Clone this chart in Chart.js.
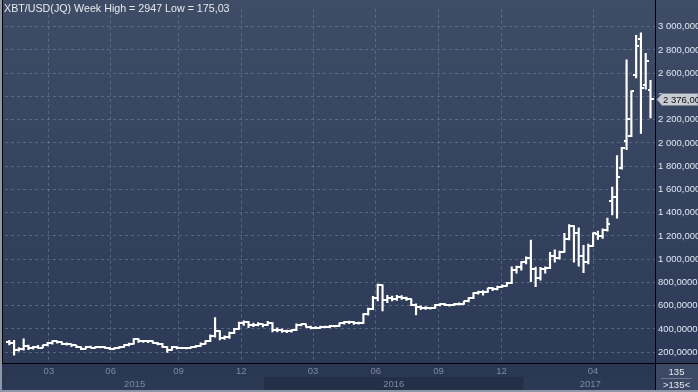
<!DOCTYPE html>
<html>
<head>
<meta charset="utf-8">
<script src="https://cdn.jsdelivr.net/npm/chart.js@4.4.1/dist/chart.umd.min.js"></script>
<style>
  html, body { margin: 0; padding: 0; background: #2c3a56; }
</style>
</head>
<body>
<canvas id="myChart" width="698" height="392"></canvas>
<script>
// weekly XBT/USD bars, index 0 = first week of 2015
const opens = [
  285, 278, 217, 231, 253, 236, 245, 240, 259, 278, 295, 287, 273, 267, 259, 245, 231, 245, 240, 245,
  241, 239, 231, 236, 245, 259, 273, 315, 295, 292, 295, 281, 273, 245, 222, 245, 236, 238, 236, 245,
  253, 273, 295, 343, 378, 323, 328, 365, 399, 455, 462, 436, 438, 441, 436, 452, 395, 392, 385, 378,
  388, 438, 441, 419, 408, 410, 419, 416, 427, 425, 447, 460, 458, 452, 455, 526, 570, 665, 775, 645,
  668, 655, 675, 670, 655, 610, 590, 580, 578, 580, 606, 612, 610, 604, 615, 618, 638, 666, 708, 718,
  722, 750, 742, 764, 772, 792, 904, 932, 974, 1008, 918, 834, 918, 924, 1031, 1008, 1064, 1171, 1283, 1227,
  1031, 974, 1115, 1213, 1199, 1249, 1502, 1536, 1783, 2013, 2061, 2588, 2891, 2496, 2454
];
const highs = [
  303, 302, 240, 315, 262, 250, 258, 262, 285, 300, 298, 290, 280, 270, 262, 248, 250, 252, 250, 250,
  248, 242, 242, 250, 265, 278, 318, 318, 300, 298, 298, 285, 276, 248, 250, 248, 242, 242, 250, 258,
  280, 300, 350, 497, 385, 340, 372, 405, 460, 470, 465, 450, 455, 445, 465, 455, 410, 400, 390, 395,
  445, 445, 445, 425, 420, 425, 425, 430, 432, 452, 466, 468, 465, 458, 532, 580, 680, 785, 780, 690,
  682, 690, 688, 675, 660, 615, 598, 592, 585, 612, 618, 620, 612, 620, 625, 640, 670, 712, 725, 730,
  752, 758, 768, 780, 800, 935, 940, 980, 1020, 1165, 932, 930, 935, 1059, 1081, 1070, 1222, 1297, 1289, 1270,
  1120, 1130, 1227, 1241, 1261, 1353, 1620, 1892, 1962, 2715, 2448, 2925, 2947, 2771, 2538
];
const lows = [
  262, 175.03, 208, 217, 222, 225, 232, 236, 255, 270, 278, 265, 260, 248, 238, 222, 228, 236, 234, 236,
  232, 222, 226, 233, 242, 255, 270, 285, 285, 282, 275, 262, 240, 198, 218, 228, 230, 229, 234, 240,
  250, 268, 290, 330, 305, 310, 318, 360, 395, 430, 410, 420, 425, 418, 430, 375, 375, 370, 368, 372,
  385, 425, 415, 400, 402, 405, 410, 412, 418, 422, 440, 445, 438, 440, 448, 518, 565, 640, 555, 625,
  640, 645, 655, 645, 600, 520, 565, 568, 570, 576, 598, 600, 596, 600, 605, 612, 632, 660, 700, 690,
  715, 730, 735, 758, 768, 790, 880, 905, 960, 806, 764, 820, 880, 918, 974, 1000, 1059, 1165, 974, 940,
  885, 960, 1109, 1171, 1179, 1241, 1381, 1353, 1774, 1943, 2055, 2560, 2083, 2462, 2215
];
const closes = [
  278, 217, 231, 253, 236, 245, 240, 259, 278, 295, 287, 273, 267, 259, 245, 231, 245, 240, 245, 241,
  239, 231, 236, 245, 259, 273, 315, 295, 292, 295, 281, 273, 245, 222, 245, 236, 238, 236, 245, 253,
  273, 295, 343, 378, 323, 328, 365, 399, 455, 462, 436, 438, 441, 436, 452, 395, 392, 385, 378, 388,
  438, 441, 419, 408, 410, 419, 416, 427, 425, 447, 460, 458, 452, 455, 526, 570, 665, 775, 645, 668,
  655, 675, 670, 655, 610, 590, 580, 578, 580, 606, 612, 610, 604, 615, 618, 638, 666, 708, 718, 722,
  750, 742, 764, 772, 792, 904, 932, 974, 1008, 918, 834, 918, 924, 1031, 1008, 1064, 1171, 1283, 1227, 1031,
  974, 1115, 1222, 1199, 1255, 1306, 1536, 1704, 1955, 2209, 2445, 2833, 2470, 2701, 2376
];

const priceTicks = [200, 400, 600, 800, 1000, 1200, 1400, 1600, 1800, 2000, 2200, 2400, 2600, 2800, 3000];
// tick positions in bar index units
const monthTicks = [8.27, 21.18, 35.35, 48.48, 63.48, 76.6, 89.7, 102.85, 122.0];
const monthLabels = ['03', '06', '09', '12', '03', '06', '09', '12', '04'];
const yearTicks = [26.2, 80.35, 121.4];
const yearLabels = ['2015', '2016', '2017'];
const yearStarts = [53.27, 107.43];

const chartTitle = 'XBT/USD(JQ) Week High = 2947 Low = 175,03';
const barCount = '135';

const FONT = 'Liberation Sans';
const gridColor = 'rgba(125,140,165,0.5)';

function fmtPrice(v, dec) {
  const parts = v.toFixed(dec).split('.');
  return parts[0].replace(/\B(?=(\d{3})+(?!\d))/g, ' ') + ',' + parts[1];
}

function tickImg(side) {
  const c = document.createElement('canvas');
  c.width = 6; c.height = 2;
  const g = c.getContext('2d');
  g.fillStyle = '#ffffff';
  if (side === 'left') g.fillRect(0, 0, 3, 2);
  else g.fillRect(3, 0, 3, 2);
  return c;
}

const backdrop = {
  id: 'backdrop',
  beforeDraw(chart) {
    const {ctx, chartArea: a, scales} = chart;
    const W = chart.width, H = chart.height;
    ctx.save();
    const grad = ctx.createLinearGradient(0, 0, 0, a.bottom);
    grad.addColorStop(0, '#3f4c66');
    grad.addColorStop(1, '#2c3a57');
    ctx.fillStyle = grad;
    ctx.fillRect(0, 0, W, a.bottom);

    ctx.fillStyle = '#2a3752';
    ctx.fillRect(0, a.bottom, W, H - a.bottom);

    // year bands
    const yTop = scales.xYear.top;
    const edges = [a.left].concat(yearStarts.map(v => scales.x.getPixelForValue(v)), [a.right]);
    for (let k = 0; k < edges.length - 1; k++) {
      ctx.fillStyle = k % 2 ? '#232f47' : '#2c3954';
      ctx.fillRect(edges[k], yTop, edges[k + 1] - edges[k], H - yTop);
    }

    // bar count box
    ctx.fillStyle = '#3c4964';
    ctx.fillRect(a.right, a.bottom, W - a.right, H - a.bottom);
    ctx.restore();
  },
  afterDraw(chart) {
    const {ctx, chartArea: a, scales} = chart;
    const W = chart.width, H = chart.height;
    ctx.save();

    // frame lines
    ctx.fillStyle = '#000000';
    ctx.fillRect(a.right, 0, 1, H);
    ctx.fillRect(0, a.bottom, W, 1);
    ctx.fillRect(2, 0, 1, a.bottom);
    ctx.fillStyle = '#8d97a8';
    ctx.fillRect(0, 0, 2, H);
    ctx.fillRect(0, H - 2, W, 2);

    // title
    ctx.fillStyle = '#e6eaf1';
    ctx.font = '10.7px "' + FONT + '"';
    ctx.textBaseline = 'alphabetic';
    ctx.textAlign = 'left';
    ctx.fillText(chartTitle, 4, 12);

    // last price tag
    const last = closes[closes.length - 1];
    const py = Math.round(scales.y.getPixelForValue(last)) + 0.5;
    ctx.fillStyle = '#c7ccd5';
    ctx.strokeStyle = '#7d8594';
    ctx.lineWidth = 1;
    ctx.beginPath();
    ctx.moveTo(a.right + 2, py);
    ctx.lineTo(a.right + 7, py - 6);
    ctx.lineTo(W, py - 6);
    ctx.lineTo(W, py + 6);
    ctx.lineTo(a.right + 7, py + 6);
    ctx.closePath();
    ctx.fill();
    ctx.stroke();
    ctx.font = '9.5px "' + FONT + '"';
    ctx.fillStyle = '#111111';
    ctx.textBaseline = 'middle';
    ctx.fillText(fmtPrice(last, 2), a.right + 8, py + 0.5);

    // bar count box text
    const cx = (a.right + W) / 2;
    ctx.textAlign = 'center';
    ctx.fillStyle = '#e3e8f0';
    ctx.fillText(barCount, cx, a.bottom + 9);
    ctx.fillText('>' + barCount + '<', cx, a.bottom + 22);
    ctx.fillStyle = '#6c7891';
    ctx.fillRect(a.right + 6, a.bottom + 15, W - a.right - 12, 1);
    ctx.restore();
  }
};

const data = {
  datasets: [
    {
      type: 'line',
      label: 'Open',
      data: opens.map((v, i) => ({x: i, y: v})),
      showLine: false,
      pointStyle: tickImg('left'),
      xAxisID: 'x',
      yAxisID: 'y',
      order: 1
    },
    {
      type: 'line',
      label: 'Close',
      data: closes.map((v, i) => ({x: i, y: v})),
      showLine: false,
      pointStyle: tickImg('right'),
      xAxisID: 'x',
      yAxisID: 'y',
      order: 1
    },
    {
      type: 'bar',
      label: 'High/Low',
      data: highs.map((v, i) => ({x: i, y: [lows[i], v]})),
      backgroundColor: '#ffffff',
      borderWidth: 0,
      barThickness: 1.5,
      xAxisID: 'x',
      yAxisID: 'y',
      order: 2
    }
  ]
};

const config = {
  type: 'bar',
  data: data,
  plugins: [backdrop],
  options: {
    responsive: false,
    animation: false,
    devicePixelRatio: 1,
    layout: { padding: { left: 3, top: 1, right: 0, bottom: 0 } },
    plugins: {
      legend: { display: false },
      tooltip: { enabled: false }
    },
    scales: {
      x: {
        type: 'linear',
        position: 'bottom',
        offset: false,
        weight: 0,
        min: -0.9,
        max: 134.94,
        afterBuildTicks: s => { s.ticks = monthTicks.map(v => ({value: v})); },
        afterFit: s => { s.height = 14; },
        ticks: {
          autoSkip: false,
          maxRotation: 0,
          padding: 3,
          color: '#7c89a2',
          font: { family: FONT, size: 9.5 },
          callback: (v, i) => monthLabels[i]
        },
        grid: { color: gridColor, drawTicks: false, offset: false },
        border: { display: false, dash: [3, 3] }
      },
      xYear: {
        type: 'linear',
        position: 'bottom',
        offset: false,
        weight: 1,
        min: -0.9,
        max: 134.94,
        afterBuildTicks: s => { s.ticks = yearTicks.map(v => ({value: v})); },
        afterFit: s => { s.height = 15; },
        ticks: {
          autoSkip: false,
          maxRotation: 0,
          padding: 2,
          color: '#7c89a2',
          font: { family: FONT, size: 9.5 },
          callback: (v, i) => yearLabels[i]
        },
        grid: { display: false, drawTicks: false, offset: false },
        border: { display: false }
      },
      y: {
        position: 'right',
        min: 107,
        max: 3155,
        afterBuildTicks: s => { s.ticks = priceTicks.map(v => ({value: v})); },
        afterFit: s => { s.width = 43; },
        ticks: {
          padding: 3,
          color: '#dfe7f3',
          font: { family: FONT, size: 9.5 },
          callback: v => fmtPrice(v, 4)
        },
        grid: { color: gridColor, drawTicks: false },
        border: { display: false, dash: [3, 3] }
      }
    }
  }
};

const myChart = new Chart(document.getElementById('myChart'), config);
</script>
</body>
</html>
